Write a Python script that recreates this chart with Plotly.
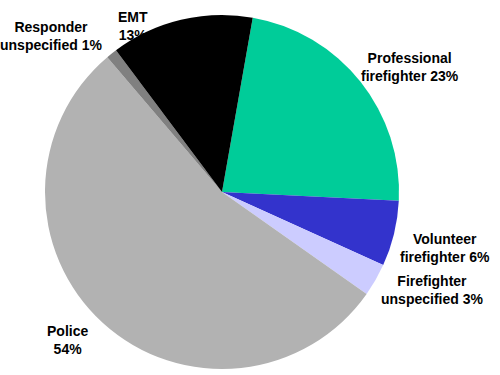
import plotly.graph_objects as go

labels = ["Professional firefighter", "Volunteer firefighter", "Firefighter unspecified",
          "Police", "Responder unspecified", "EMT"]
values = [23, 6, 3, 54, 1, 13]
colors = ["#00CC99", "#3333CC", "#CCCCFF", "#B2B2B2", "#808080", "#000000"]
label_texts = ["Professional<br>firefighter 23%", "Volunteer<br>firefighter 6%",
               "Firefighter<br>unspecified 3%", "Police<br>54%",
               "Responder<br>unspecified 1%", "EMT<br>13%"]
label_pos = [(410, 67), (445, 248), (432, 290), (67, 340), (51, 36), (133, 26)]

W, H = 500, 375
cx, cy, r = 222, 192, 177

fig = go.Figure(go.Pie(
    labels=labels, values=values, sort=False, direction="clockwise", rotation=10,
    marker=dict(colors=colors, line=dict(width=0)),
    textinfo="none", hoverinfo="label+percent", showlegend=False,
    domain=dict(x=[(cx - r) / W, (cx + r) / W], y=[(H - cy - r) / H, (H - cy + r) / H]),
))

for t, (x, y) in zip(label_texts, label_pos):
    fig.add_annotation(x=x / W, y=1 - y / H, xref="paper", yref="paper", text="<b>" + t + "</b>",
                       showarrow=False, xanchor="center", yanchor="middle",
                       font=dict(family="Liberation Sans, Arial, sans-serif", size=14, color="black"))

fig.update_layout(width=W, height=H, margin=dict(l=0, r=0, t=0, b=0),
                  paper_bgcolor="white", plot_bgcolor="white")
fig.write_html("out.html")
